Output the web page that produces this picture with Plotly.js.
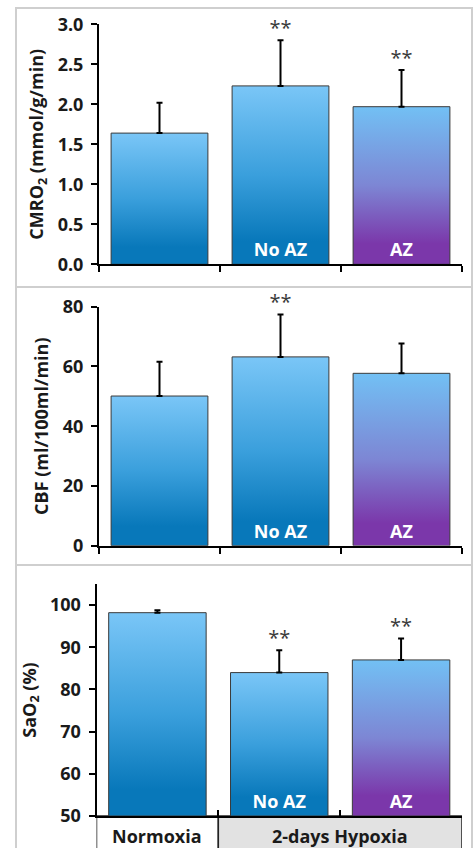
<!DOCTYPE html>
<html>
<head>
<meta charset="utf-8">
<script src="https://cdn.plot.ly/plotly-3.0.1.min.js"></script>
<style>
html,body{margin:0;padding:0;background:#fff;}
#chart{width:475px;height:848px;}
</style>
</head>
<body>
<div id="chart"></div>
<script>
// ---- data ----
const categories = ["Normoxia", "No AZ", "AZ"];
const barLabels = ["", "No AZ", "AZ"];
const cmroMean = [1.64, 2.23, 1.97];
const cmroErr = [0.38, 0.57, 0.46];
const cmroStars = ["", "**", "**"];
const cbfMean = [50.1, 63.2, 57.7];
const cbfErr = [11.5, 14.2, 10.0];
const cbfStars = ["", "**", ""];
const saoMean = [98.2, 84.0, 87.0];
const saoErr = [0.6, 5.3, 5.1];
const saoStars = ["", "**", "**"];
const saoBase = 50;
const groupLabels = ["Normoxia", "2-days Hypoxia"];
const barColors = ["#2a9ad8", "#2a9ad8", "#7e7bd0"];
const gradIds = ["gBlue", "gBlue", "gPurple"];

const FONT = "Open Sans";

function barTrace(means, errs, xa, ya, base) {
  const b = base || 0;
  return {
    type: "bar", x: categories, y: means.map(v => v - b), base: b, xaxis: xa, yaxis: ya,
    text: barLabels, textposition: "inside", insidetextanchor: "start",
    textangle: 0, constraintext: "none",
    textfont: {family: FONT, size: 18, color: "#ffffff", weight: "bold"},
    marker: {color: barColors, line: {color: "#3a3a3a", width: 1}},
    error_y: {type: "data", array: errs, arrayminus: errs.map(() => 0), symmetric: false,
              color: "#000", thickness: 2, width: 3},
    hoverinfo: "skip", showlegend: false
  };
}
function starTrace(means, errs, stars, xa, ya) {
  return {
    type: "scatter", mode: "text", x: categories,
    y: means.map((m, i) => m + errs[i]), text: stars,
    textposition: "top center", xaxis: xa, yaxis: ya, cliponaxis: false,
    textfont: {family: FONT, size: 20, color: "#3a3a3a"},
    hoverinfo: "skip", showlegend: false
  };
}

const data = [
  barTrace(cmroMean, cmroErr, "x", "y"),
  starTrace(cmroMean, cmroErr, cmroStars, "x", "y"),
  barTrace(cbfMean, cbfErr, "x2", "y2"),
  starTrace(cbfMean, cbfErr, cbfStars, "x2", "y2"),
  barTrace(saoMean, saoErr, "x3", "y3", saoBase),
  starTrace(saoMean, saoErr, saoStars, "x3", "y3")
];

const W = 475, H = 848;
const px = v => v / W;
const py = v => 1 - v / H;

function xax(d0, anchor, tickDir) {
  return {
    domain: [px(d0), px(462)], anchor: anchor, type: "category",
    range: [-0.5, 2.5], showgrid: false, zeroline: false,
    showline: true, linecolor: "#000", linewidth: 2,
    ticks: tickDir, tickson: "boundaries", ticklen: 6, tickwidth: 2, tickcolor: "#000",
    showticklabels: false, fixedrange: true
  };
}
function yax(d0, d1, range, dtick, fmt, title, anchor) {
  return {
    domain: [py(d0), py(d1)], anchor: anchor, range: range, dtick: dtick, tick0: range[0],
    tickformat: fmt, showgrid: false, zeroline: false,
    showline: true, linecolor: "#000", linewidth: 2,
    ticks: "outside", ticklen: 6, tickwidth: 2, tickcolor: "#000", ticklabelstandoff: 4,
    tickfont: {family: FONT, size: 18, color: "#1a1a1a", weight: "bold"},
    title: {text: title, standoff: 9, font: {family: FONT, size: 18, color: "#1a1a1a", weight: "bold"}},
    fixedrange: true
  };
}

const panelLine = {color: "#cfcfcf", width: 2};
const labFont = {family: FONT, size: 18, color: "#1a1a1a", weight: "bold"};
const layout = {
  width: W, height: H, margin: {l: 0, r: 0, t: 0, b: 0},
  paper_bgcolor: "#fff", plot_bgcolor: "rgba(0,0,0,0)",
  bargap: 0.2, showlegend: false, hovermode: false,
  xaxis: xax(99, "y", "outside"),
  yaxis: yax(264.3, 24.3, [0, 3.0], 0.5, ".1f", "CMRO<sub>2</sub> (mmol/g/min)", "x"),
  xaxis2: xax(99, "y2", "outside"),
  yaxis2: yax(545.7, 306.7, [0, 80], 20, "d", "CBF (ml/100ml/min)", "x2"),
  xaxis3: xax(96.5, "y3", "inside"),
  yaxis3: yax(816, 584, [50, 105], 10, "d", "SaO<sub>2</sub> (%)", "x3"),
  shapes: [
    {type: "rect", xref: "paper", yref: "paper", x0: px(16), x1: px(472), y0: py(287), y1: py(8), line: panelLine, layer: "below"},
    {type: "rect", xref: "paper", yref: "paper", x0: px(16), x1: px(472), y0: py(565), y1: py(287), line: panelLine, layer: "below"},
    {type: "rect", xref: "paper", yref: "paper", x0: px(16), x1: px(472), y0: py(860), y1: py(565), line: panelLine, layer: "below"},
    {type: "rect", xref: "x3", yref: "paper", x0: -0.5, x1: 0.5, y0: py(860), y1: py(816), line: {color: "#222", width: 1.5}, fillcolor: "#ffffff", layer: "below"},
    {type: "rect", xref: "x3", yref: "paper", x0: 0.5, x1: 2.5, y0: py(860), y1: py(816), line: {color: "#222", width: 1.5}, fillcolor: "#e2e2e2", layer: "below"}
  ],
  annotations: [
    {xref: "x3", yref: "paper", x: 0, y: py(836), yanchor: "middle", text: groupLabels[0], showarrow: false, font: labFont},
    {xref: "x3", yref: "paper", x: 1.5, y: py(836), yanchor: "middle", text: groupLabels[1], showarrow: false, font: labFont}
  ]
};

function applyGradients(gd) {
  const svg = gd.querySelector("svg.main-svg");
  if (!svg) return;
  const ns = "http://www.w3.org/2000/svg";
  if (!svg.querySelector("#gBlue")) {
    const defs = document.createElementNS(ns, "defs");
    const mk = (id, stops) => {
      const g = document.createElementNS(ns, "linearGradient");
      g.setAttribute("id", id);
      g.setAttribute("x1", "0"); g.setAttribute("y1", "0");
      g.setAttribute("x2", "0"); g.setAttribute("y2", "1");
      stops.forEach(s => {
        const st = document.createElementNS(ns, "stop");
        st.setAttribute("offset", s[0]);
        st.setAttribute("stop-color", s[1]);
        g.appendChild(st);
      });
      defs.appendChild(g);
    };
    mk("gBlue", [["0", "#7ac6f7"], ["0.5", "#3a9fdc"], ["0.87", "#0878ba"], ["1", "#0878ba"]]);
    mk("gPurple", [["0", "#72c0f4"], ["0.5", "#7d86d4"], ["0.87", "#7b37aa"], ["1", "#7b37aa"]]);
    svg.insertBefore(defs, svg.firstChild);
  }
  gd.querySelectorAll(".barlayer .trace.bars").forEach(tr => {
    tr.querySelectorAll(".point path").forEach((p, i) => {
      p.style.fill = "url(#" + gradIds[i] + ")";
    });
  });
}

const gd = document.getElementById("chart");
Plotly.newPlot(gd, data, layout, {staticPlot: true, displayModeBar: false}).then(() => {
  applyGradients(gd);
  gd.on("plotly_afterplot", () => applyGradients(gd));
});
</script>
</body>
</html>
